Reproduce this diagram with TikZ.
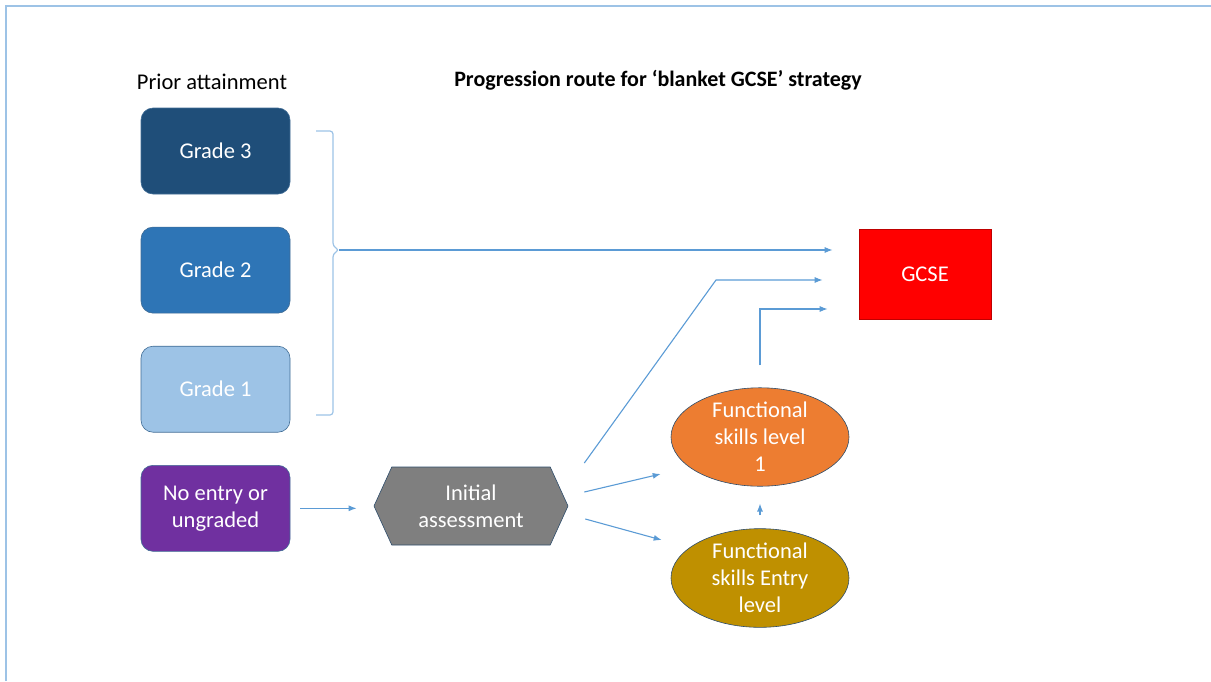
\documentclass[tikz,border=0pt]{standalone}
\usepackage{fontspec}
\setmainfont{Carlito}
\usetikzlibrary{shapes,arrows.meta}
\usetikzlibrary{positioning}
\usepackage{xcolor}
\definecolor{framecol}{HTML}{9DC3E6}
\definecolor{linecol}{HTML}{5B9BD5}
\definecolor{gradethree}{HTML}{1F4E79}
\definecolor{gradetwo}{HTML}{2E75B6}
\definecolor{gradeone}{HTML}{9DC3E6}
\definecolor{noentrycol}{HTML}{7030A0}
\definecolor{assesscol}{HTML}{7F7F7F}
\definecolor{levelone}{HTML}{ED7D31}
\definecolor{entrycol}{HTML}{BF9000}

\begin{document}
\begin{tikzpicture}[x=1pt, y=-1pt, node distance=32.5pt,
  font=\fontsize{22.5}{27}\selectfont, >={Latex[length=8pt,width=6pt]},
  gradebox/.style={draw=linecol!70!black, line width=0.6pt, rounded corners=12pt,
    minimum width=149pt, minimum height=86pt, text=white, align=center},
  conn/.style={draw=linecol, line width=1.1pt}]
  \useasboundingbox (0,0) rectangle (1211,681);
  \draw[framecol, line width=2pt] (6,681) -- (6,6) -- (1211,6);

  % Left: prior attainment
  \node (prior) at (212,82) {Prior attainment};
  \node[font=\fontsize{22}{27}\selectfont\bfseries] (title) at (658,80)
    {Progression route for ‘blanket GCSE’ strategy};
  \node[gradebox, fill=gradethree] (g3) at (215.5,151) {Grade 3};
  \node[gradebox, fill=gradetwo, below=of g3] (g2) {Grade 2};
  \node[gradebox, fill=gradeone, below=of g2] (g1) {Grade 1};
  \node[gradebox, fill=noentrycol, below=of g1] (ne) {No entry or\\ungraded};

  % Right: assessment and routes
  \node[signal, signal to=east and west, signal pointer angle=131, fill=assesscol,
    draw=linecol!50!black, line width=0.6pt, minimum width=194pt, minimum height=78pt,
    inner sep=0pt, text=white, align=center] (ia) at (471,506) {Initial\\assessment};
  \node[ellipse, fill=levelone, draw=linecol!50!black, line width=0.6pt,
    minimum width=178pt, minimum height=92pt, inner sep=0pt, text=white, align=center]
    (fs1) at (760,437) {Functional\\skills level\\1};
  \node[ellipse, fill=entrycol, draw=linecol!50!black, line width=0.6pt,
    minimum width=178pt, minimum height=92pt, inner sep=0pt, text=white, align=center]
    (fse) at (760,578) {Functional\\skills Entry\\level};
  \node[rectangle, fill=red, draw=red!75!black, line width=0.6pt, minimum width=132pt,
    minimum height=90pt, text=white] (gcse) at (925,274) {GCSE};

  % bracket and routes
  \coordinate (tip) at (339,250);
  \coordinate (bend) at (716,280);
  \draw[framecol, line width=1.2pt, rounded corners=3pt]
    (316,131) -- (333,131) -- (333,246) -- (tip) -- (333,254) -- (333,415) -- (316,415);
  \draw[conn, ->] (tip) -- ([xshift=-26pt, yshift=24pt]gcse.west);
  \draw[conn, ->] ([xshift=10pt]ne.east) -- ([xshift=-17pt]ia.west |- ne.east);
  \draw[conn, ->] ([xshift=16pt, yshift=43pt]ia.east) -- (bend)
    -- ([xshift=-36pt, yshift=-6pt]gcse.west);
  \draw[conn, ->] ([xshift=16pt, yshift=14pt]ia.east) -- ([xshift=-10pt, yshift=-37pt]fs1.west);
  \draw[conn, ->] ([xshift=17pt, yshift=-13pt]ia.east) -- ([xshift=-9pt, yshift=38pt]fse.west);
  \draw[conn, ->] ([yshift=13pt]fse.north) -- ([yshift=-17pt]fs1.south);
  \draw[conn, ->] ([yshift=22pt]fs1.north) |- ([xshift=-31pt, yshift=-35pt]gcse.west);
\end{tikzpicture}
\end{document}
